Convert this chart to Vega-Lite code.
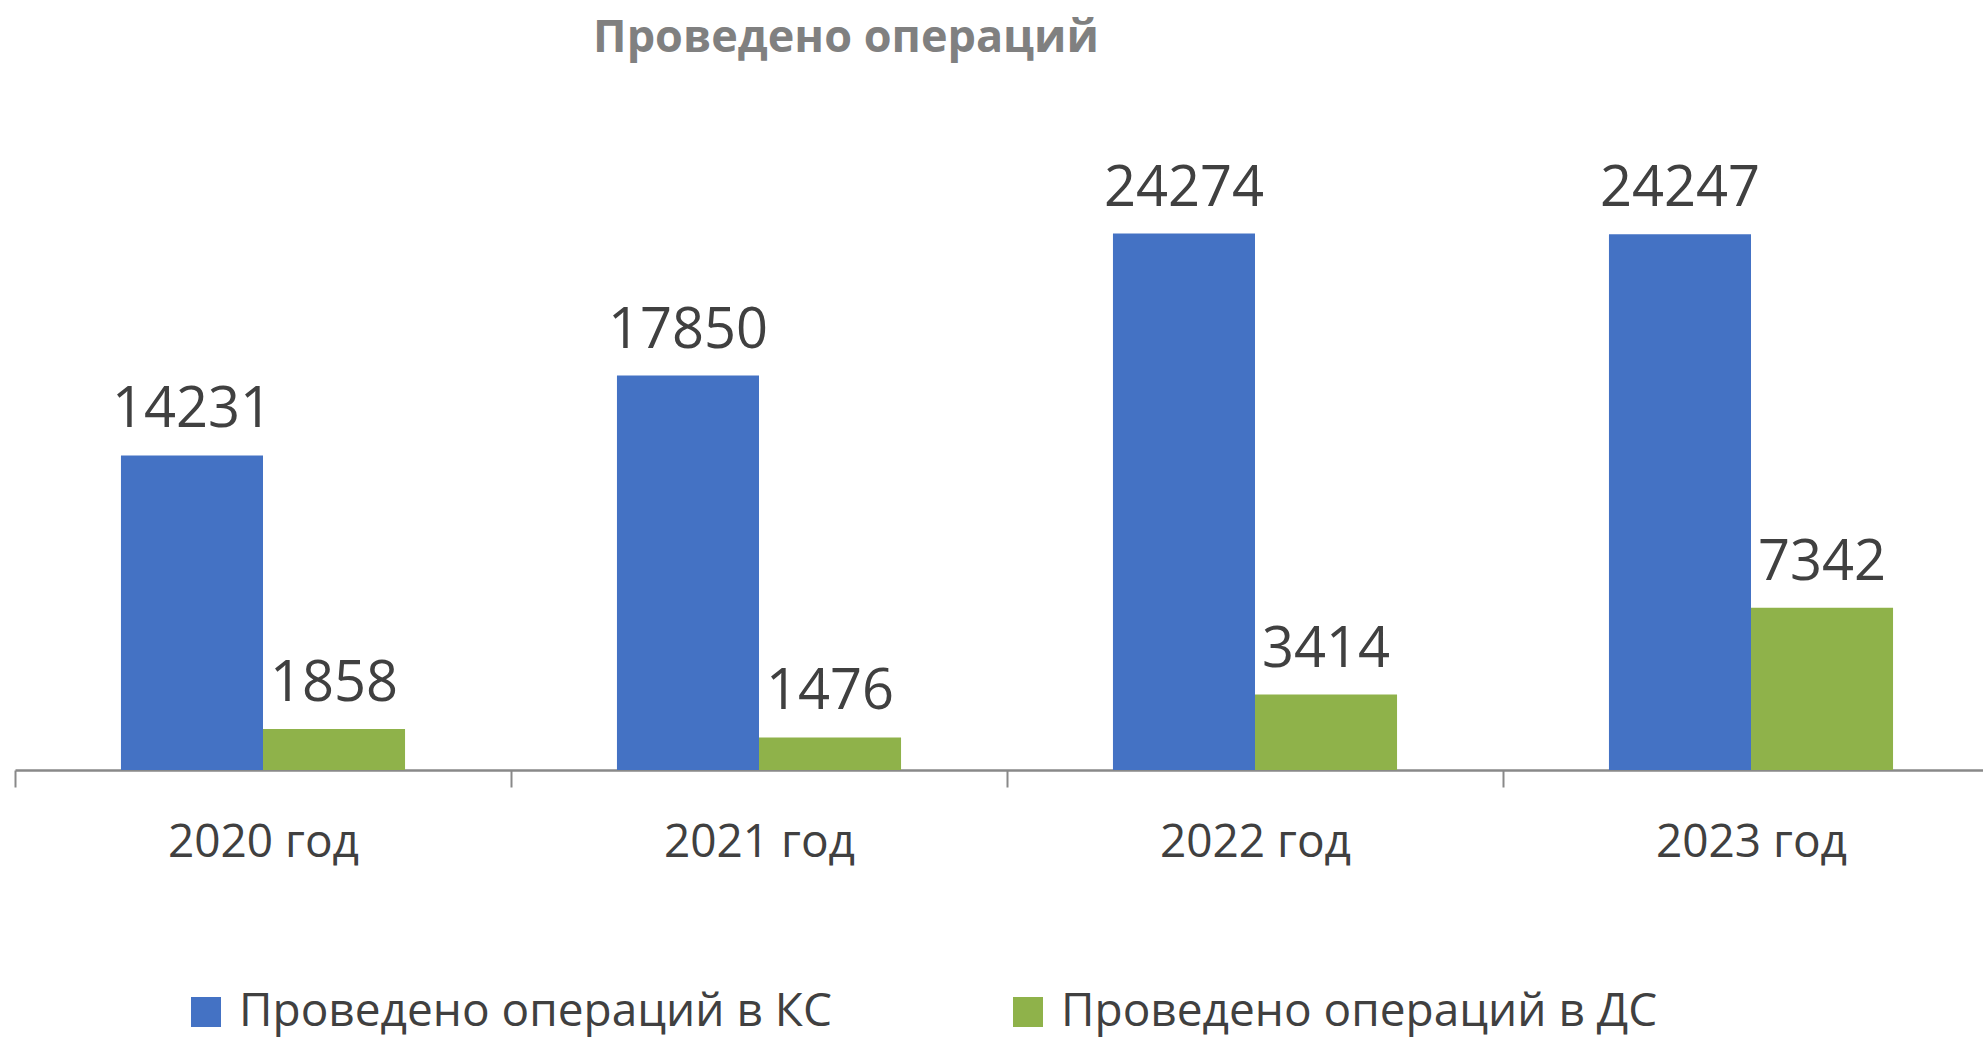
{
  "$schema": "https://vega.github.io/schema/vega-lite/v6.json",
  "width": 1968,
  "height": 663,
  "autosize": {"type": "none"},
  "padding": {"left": 15, "top": 107, "right": 0, "bottom": 269},
  "background": "white",
  "config": {"view": {"stroke": null}, "font": "Open Sans"},
  "title": {
    "text": "Проведено операций",
    "font": "Open Sans",
    "fontSize": 45,
    "fontWeight": "bold",
    "color": "#808080",
    "anchor": "middle",
    "dx": -153,
    "dy": 47,
    "offset": 57,
    "baseline": "alphabetic"
  },
  "data": {
    "values": [
      {"year": "2020 год", "series": "Проведено операций в КС", "value": 14231},
      {"year": "2020 год", "series": "Проведено операций в ДС", "value": 1858},
      {"year": "2021 год", "series": "Проведено операций в КС", "value": 17850},
      {"year": "2021 год", "series": "Проведено операций в ДС", "value": 1476},
      {"year": "2022 год", "series": "Проведено операций в КС", "value": 24274},
      {"year": "2022 год", "series": "Проведено операций в ДС", "value": 3414},
      {"year": "2023 год", "series": "Проведено операций в КС", "value": 24247},
      {"year": "2023 год", "series": "Проведено операций в ДС", "value": 7342}
    ]
  },
  "encoding": {
    "x": {
      "field": "year",
      "type": "nominal",
      "sort": null,
      "scale": {"paddingInner": 0, "paddingOuter": 0, "range": [0, 1984]},
      "axis": {
        "title": null,
        "labelAngle": 0,
        "grid": false,
        "domainColor": "#898989",
        "domainWidth": 2.5,
        "tickColor": "#898989",
        "tickWidth": 2,
        "tickSize": 17,
        "tickBand": "extent",
        "labelFontSize": 46,
        "labelFont": "Open Sans",
        "labelColor": "#404040",
        "labelPadding": 33,
        "labelLimit": 0
      }
    },
    "xOffset": {
      "field": "series",
      "type": "nominal",
      "sort": ["Проведено операций в КС", "Проведено операций в ДС"],
      "scale": {"paddingInner": 0, "paddingOuter": 0.746}
    },
    "y": {
      "field": "value",
      "type": "quantitative",
      "scale": {"domain": [0, 30000]},
      "axis": null
    }
  },
  "layer": [
    {
      "mark": {"type": "bar"},
      "encoding": {
        "color": {
          "field": "series",
          "type": "nominal",
          "sort": ["Проведено операций в КС", "Проведено операций в ДС"],
          "scale": {
            "domain": ["Проведено операций в КС", "Проведено операций в ДС"],
            "range": ["#4472C4", "#8FB24A"]
          },
          "legend": {
            "orient": "none",
            "legendX": 168,
            "legendY": 882,
            "direction": "horizontal",
            "columns": 2,
            "title": null,
            "symbolType": "square",
            "symbolSize": 900,
            "symbolStrokeWidth": 0,
            "symbolOpacity": 1,
            "labelFont": "Open Sans",
            "labelFontSize": 46,
            "labelColor": "#404040",
            "labelOffset": 10,
            "labelLimit": 0,
            "columnPadding": 173,
            "padding": 0
          }
        }
      }
    },
    {
      "mark": {
        "type": "text",
        "baseline": "alphabetic",
        "dy": -28,
        "fontSize": 56,
        "font": "Open Sans",
        "color": "#404040"
      },
      "encoding": {
        "text": {"field": "value", "type": "quantitative", "format": "d"}
      }
    }
  ]
}
